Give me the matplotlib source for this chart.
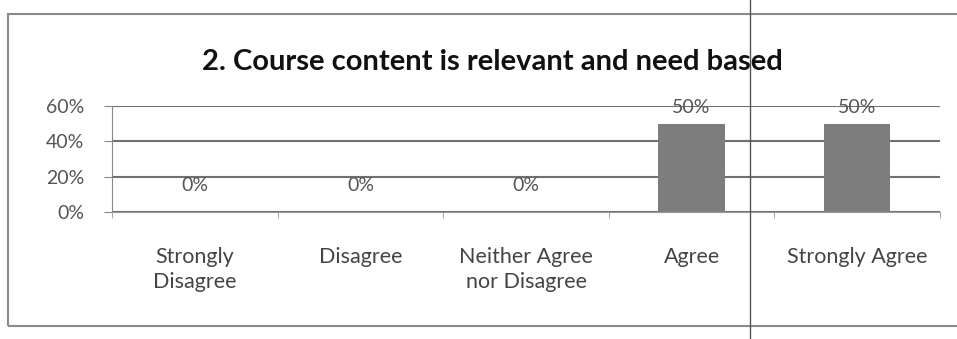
import matplotlib
matplotlib.use("Agg")
import matplotlib.pyplot as plt
from matplotlib.patches import Rectangle
from matplotlib.lines import Line2D
import numpy as np

categories = ["Strongly\nDisagree", "Disagree", "Neither Agree\nnor Disagree", "Agree", "Strongly Agree"]
values = [0, 0, 0, 50, 50]
data_labels = ["0%", "0%", "0%", "50%", "50%"]
yticks = [0, 20, 40, 60]
ytick_labels = ["0%", "20%", "40%", "60%"]
title = "2. Course content is relevant and need based"

W, H = 957, 339
fig = plt.figure(figsize=(W / 100, H / 100), dpi=100)
fig.patch.set_facecolor("white")
plt.rcParams["font.family"] = ["Lato", "DejaVu Sans"]

def px(x0, y0, x1, y1):
    return [x0 / W, 1 - y1 / H, (x1 - x0) / W, (y1 - y0) / H]

ax = fig.add_axes(px(112, 106, 940, 212))
x = np.arange(len(categories))
ax.bar(x, values, width=0.40, color="#7d7d7d", zorder=3)
ax.set_xlim(-0.5, len(categories) - 0.5)
ax.set_ylim(0, 60)
ax.set_yticks(yticks)
ax.set_yticklabels(ytick_labels, fontsize=14, color="#555555")
ax.set_xticks(x)
ax.set_xticklabels(categories, fontsize=15.5, color="#444444", linespacing=1.3, va="top")
ax.set_xticks(np.arange(-0.5, len(categories), 1.0), minor=True)
ax.tick_params(axis="x", which="major", length=0, pad=25)
ax.tick_params(axis="x", which="minor", length=4, color="#999999")
ax.tick_params(axis="y", length=6, color="#888888", pad=14)
ax.yaxis.grid(True, color="#707070", linewidth=1.5, zorder=0)
for s in ["top", "right"]:
    ax.spines[s].set_visible(False)
ax.spines["left"].set_color("#888888")
ax.spines["bottom"].set_color("#999999")
ax.set_facecolor("none")

for xi, v, lab in zip(x, values, data_labels):
    ax.annotate(lab, (xi, v), xytext=(0, 12 if v > 0 else 19), textcoords="offset points",
                ha="center", va="center", fontsize=14, color="#555555")

fig.text(492 / W, 1 - 62 / H, title, ha="center", va="center", fontsize=21,
         fontweight="bold", color="#111111")

# chart border
fig.add_artist(Rectangle((8 / W, 1 - 326 / H), (960 - 8) / W, (326 - 14) / H,
                         transform=fig.transFigure, fill=False, edgecolor="#8a8a8a", linewidth=1.5))
# scan fold line
fig.add_artist(Line2D([750 / W, 750 / W], [0, 1], transform=fig.transFigure,
                      color="#555555", linewidth=1.0))

fig.savefig("out.png", dpi=100, facecolor="white")
